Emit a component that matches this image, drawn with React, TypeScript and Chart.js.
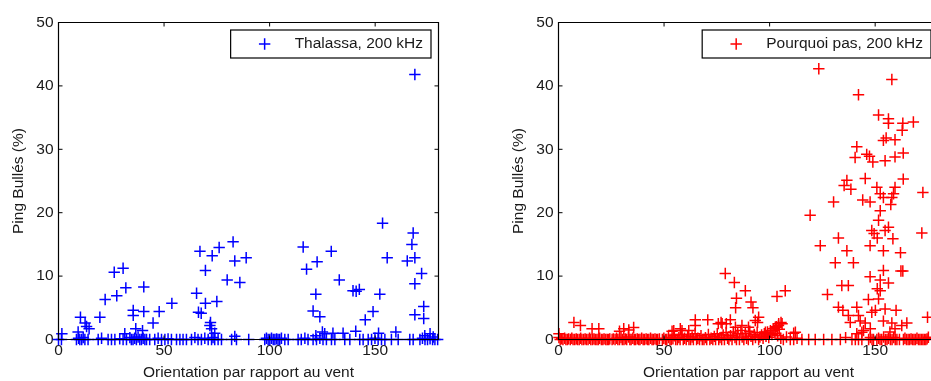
import React, { useEffect, useRef } from 'react';
import { Chart, registerables } from 'chart.js';

Chart.register(...registerables);

// ---- Text / ticks ----
const xTickValues = [0, 50, 100, 150];
const yTickValues = [0, 10, 20, 30, 40, 50];
const xAxisTitle = 'Orientation par rapport au vent';
const yAxisTitle = 'Ping Bullés (%)';
const thalassaLabel = 'Thalassa, 200 kHz';
const pourquoiLabel = 'Pourquoi pas, 200 kHz';

// ---- Thalassa (blue) ----
const thalassaScatter: [number, number][] = [
  [168.8, 41.8], [153.5, 18.35], [168, 16.8], [167.4, 15.0], [165.2, 12.4], [168.8, 12.9],
  [155.7, 12.9], [172, 10.4], [168.8, 8.8], [152.2, 7.15], [168.8, 3.9], [173, 5.2], [173, 3.3],
  [149, 4.4], [145.3, 3.1], [140.8, 1.3], [139.5, 7.7], [141, 7.6], [142.5, 7.9], [133, 9.4],
  [129.2, 13.9], [122.5, 12.25], [117.5, 11.1], [115.9, 14.6], [121.9, 7.15], [120.6, 4.5],
  [123.8, 3.6], [88.9, 12.9], [85.9, 9.0], [83.5, 12.4], [82.7, 15.4], [79.9, 9.4], [76.1, 14.5],
  [72.8, 13.2], [67, 13.9], [69.6, 10.9], [69.6, 5.7], [75, 6.0], [65.4, 7.3], [66.3, 4.3],
  [67.6, 4.15], [72, 2.7], [72.5, 1.7], [53.7, 5.7], [47.7, 4.4], [44.8, 2.6], [40.4, 8.3],
  [40.4, 4.4], [31.9, 8.15], [30.6, 11.25], [26.4, 10.6], [27.6, 6.9], [22.1, 6.3], [19.6, 3.5],
  [35.4, 4.6], [35.4, 3.8], [10.4, 3.5], [12.6, 2.6], [14.5, 1.7], [13.3, 2.05], [36.6, 1.7],
  [39.8, 1.4], [159.8, 1.2], [125, 1.2], [126.1, 0.9], [130, 1.0], [134.8, 1.0], [151.6, 1.0],
  [1.6, 0.9], [176, 0.9], [9.3, 1.2], [31.4, 0.9], [71.7, 2.2], [74, 1.0], [83.5, 0.5],
  [121.9, 0.6], [173.5, 0.6], [177.5, 0.4],
];
const thalassaBaseline: [number, number][] = [
  [0, 0], [1.4, 0], [8.5, 0], [9.5, 0.2], [10.1, 0], [11, 0], [11.7, 0.3], [12.5, 0], [14, 0],
  [18.8, 0], [20.4, 0.2], [23.5, 0], [25.1, 0], [26.7, 0], [29, 0.1], [30.6, 0], [32.2, 0],
  [33.8, 0.3], [34.5, 0], [35.3, 0], [36.1, 0.2], [36.9, 0], [37.7, 0.4], [38.5, 0], [39.3, 0],
  [40.1, 0.2], [40.9, 0], [41.7, 0], [43.2, 0], [45.6, 0], [47.2, 0.2], [48.8, 0], [50.4, 0],
  [51.9, 0.1], [53.5, 0], [55.9, 0], [57.5, 0], [59, 0], [60.6, 0], [63, 0], [64.6, 0.3],
  [66.1, 0], [67.7, 0], [69.3, 0.2], [70.9, 0], [72.5, 0], [73.2, 0.3], [74, 0], [75.6, 0],
  [77.2, 0], [82, 0], [84.3, 0], [90.1, 0], [97.7, 0], [98.5, 0.2], [99.3, 0], [100.1, 0],
  [100.9, 0.2], [101.7, 0], [102.5, 0], [103.3, 0.1], [104, 0], [104.8, 0], [105.6, 0.2],
  [107.2, 0], [108.8, 0], [113.5, 0], [115, 0], [116.7, 0.2], [118.2, 0], [120.6, 0],
  [122.2, 0], [123.8, 0.2], [125.3, 0], [126.9, 0], [129.3, 0], [130.9, 0], [135.6, 0],
  [138, 0], [142.7, 0], [144.3, 0], [146.7, 0], [148.3, 0], [149.9, 0.2], [151.4, 0],
  [153, 0], [154.6, 0], [157.7, 0], [160.9, 0], [166.4, 0], [168, 0], [171.2, 0], [172.4, 0.2],
  [173.6, 0], [174.8, 0], [176, 0.1], [177.2, 0], [178.3, 0], [179.6, 0],
];

// ---- Pourquoi pas (red) ----
const pourquoiScatter: [number, number][] = [
  [123.3, 42.7], [157.9, 41.0], [142.1, 38.6], [151.6, 35.4], [156.3, 34.8], [156.3, 34.1],
  [163.1, 34.1], [168.1, 34.3], [162.8, 33.0], [141.3, 30.4], [155.2, 31.8], [153.9, 31.4],
  [159.4, 31.5], [146, 29.2], [147.3, 28.9], [140.5, 28.7], [148.9, 28.0], [154.7, 28.2],
  [159.4, 28.8], [163.3, 29.4], [136.6, 25.1], [135.3, 24.3], [145.3, 25.4], [163.3, 25.3],
  [138.5, 23.7], [130.3, 21.7], [144.1, 22.0], [147.6, 21.7], [150.8, 24.0], [152.4, 23.0],
  [153.9, 22.4], [157.9, 22.4], [159.4, 24.0], [158.7, 23.0], [157.4, 21.3], [172.6, 23.2],
  [152.4, 20.3], [119.2, 19.6], [124, 14.8], [132.6, 16.0], [136.6, 14.0], [148.4, 17.2],
  [149.5, 16.7], [151.6, 18.8], [154.7, 17.2], [156.3, 17.7], [158.4, 15.9], [151, 16.0],
  [147.6, 14.8], [153.9, 14.0], [162, 13.7], [172.1, 16.8], [131.1, 12.1], [139.7, 12.1],
  [153.9, 10.9], [163.1, 10.8], [162.2, 10.8], [147.6, 9.9], [152.4, 9.4], [156.3, 8.9], [134.2, 8.5],
  [137.3, 8.5], [151, 8.0], [152.4, 7.7], [127.4, 7.1], [146.8, 6.3], [151.6, 6.4], [132.6, 5.1],
  [134.7, 4.6], [141.3, 5.1], [150.1, 4.6], [154.7, 4.8], [159.9, 4.6], [137.3, 3.8],
  [142.1, 3.8], [148.4, 4.3], [138.2, 2.7], [142.9, 2.9], [145.3, 2.6], [153.9, 2.9],
  [157.9, 2.6], [165, 2.6], [174.8, 3.5], [141.3, 0.9], [144.5, 1.4], [159.4, 1.7],
  [162.6, 2.2], [143.7, 1.15], [147.7, 1.7], [157, 1.2], [112.2, 1.15], [175.2, 0.35],
  [79, 10.4], [83.3, 9.0], [88.5, 7.7], [84.3, 6.5], [83.9, 5.0], [91.2, 5.9], [92.1, 5.0],
  [103.5, 6.8], [107.4, 7.7], [94.8, 3.5], [94.3, 2.7], [81.4, 3.1], [77, 2.7], [70.7, 3.1],
  [64.8, 3.1], [105.4, 2.7], [104.2, 2.2], [7.3, 2.7], [10.4, 2.2], [15.9, 1.7], [19.1, 1.7],
  [35.6, 1.9], [28.9, 1.3], [53.8, 1.3], [58.5, 1.4], [61.7, 1.4], [0.2, 0.9], [30.9, 1.7],
  [33.3, 1.5], [54.6, 1.4], [57.7, 1.7], [64.8, 2.2], [75.7, 2.5], [77.5, 2.5], [79.5, 2.5],
  [83.8, 1.95], [86.9, 2.2], [90, 1.95], [93.2, 3.0], [98, 1.15], [102.7, 1.95], [104.3, 2.5],
  [105.9, 2.5], [111.4, 1.0],
];
const pourquoiBaseline: [number, number][] = [
  [0.2, 0.3], [0.8, 0], [1.5, 0.1], [2.1, 0], [2.9, 0.2], [3.5, 0], [4.2, 0], [4.8, 0.1],
  [5.6, 0], [6.3, 0.2], [6.9, 0], [7.7, 0], [8.4, 0.1], [9.0, 0], [9.8, 0], [10.5, 0.2],
  [11.1, 0], [11.9, 0], [12.6, 0.1], [13.2, 0], [14.0, 0], [14.7, 0.2], [15.3, 0], [16.1, 0],
  [16.8, 0.1], [17.4, 0], [18.2, 0], [18.9, 0], [19.5, 0.2], [20.3, 0], [21.0, 0], [21.6, 0.1],
  [22.4, 0], [23.1, 0], [23.8, 0], [24.3, 0.1],
  [25.4, 0], [26.0, 0.1], [26.8, 0], [27.5, 0.2], [28.1, 0], [28.9, 0], [29.6, 0.3], [30.2, 0],
  [31.0, 0], [31.7, 0.1], [32.3, 0], [33.1, 0.4], [33.8, 0], [34.4, 0], [35.2, 0.2], [35.9, 0],
  [36.5, 0], [37.3, 0.1], [38.0, 0], [38.6, 0], [39.4, 0.2], [40.1, 0], [40.7, 0], [41.5, 0.1],
  [42.2, 0], [42.8, 0], [43.6, 0.2], [44.3, 0], [44.9, 0], [45.7, 0.1], [46.4, 0], [47.0, 0],
  [47.8, 0.1],
  [49.2, 0], [49.9, 0.2], [50.7, 0], [51.3, 0], [52.1, 0.3], [52.8, 0], [53.4, 0], [54.2, 0.1],
  [54.9, 0.6], [55.5, 0], [56.3, 0], [57.0, 0.3], [57.6, 0], [58.4, 0.8], [59.1, 0], [59.7, 0.2],
  [60.5, 0], [61.2, 0.5], [61.8, 0], [62.6, 0], [63.3, 0.4], [63.9, 0], [64.7, 0.9], [65.4, 0],
  [66.0, 0.2], [66.8, 0], [67.5, 0.6], [68.1, 0], [68.9, 0], [69.6, 0.3], [70.2, 0], [71.0, 0.8],
  [71.7, 0], [72.3, 0.2], [73.1, 0], [73.8, 0.5], [74.4, 0], [75.2, 0.9], [75.9, 0], [76.5, 0.3],
  [77.3, 0], [78.0, 0.7], [78.6, 0], [79.4, 1.1], [80.1, 0.2], [80.7, 0], [81.5, 0.6], [82.2, 0],
  [82.8, 1.2], [83.6, 0.3], [84.3, 0], [84.9, 0.9], [85.7, 0], [86.4, 1.4], [87.0, 0.4],
  [87.8, 0], [88.5, 1.0], [89.1, 0.2], [89.9, 0], [90.6, 1.3], [91.2, 0.5], [92.0, 0],
  [92.7, 0.8], [93.3, 0.3], [94.1, 1.1], [94.8, 0], [95.4, 0.4], [96.2, 0.7], [96.9, 0.2],
  [97.5, 0.9], [98.3, 0.5], [99.0, 1.2], [99.6, 0.3], [100.4, 1.4], [101.1, 0.8], [101.7, 1.7],
  [102.5, 1.0], [103.2, 2.0], [103.8, 0.6], [104.6, 1.6], [105.3, 0.2],
  [106.5, 0], [108, 0.4], [109.8, 0], [111.4, 0], [113, 0.2], [115.3, 0], [118.5, 0],
  [121.6, 0], [125.6, 0], [129.5, 0], [133.5, 0], [136, 0.3], [139, 0], [140.6, 0], [142.1, 0],
  [143.7, 0],
  [146.9, 0], [147.7, 0.3], [148.5, 0], [149.2, 0], [150.8, 0], [151.6, 0.2], [152.3, 0],
  [153.1, 0], [154, 0.4], [154.8, 0], [155.6, 0], [156.3, 0.2], [157.2, 0], [158, 0],
  [158.8, 0.3], [159.5, 0], [160.3, 0], [161.5, 0], [163.4, 0], [164.1, 0.2], [164.8, 0],
  [165.6, 0], [166.3, 0], [167, 0.1], [167.7, 0], [168.4, 0], [169.1, 0], [169.8, 0.2],
  [170.5, 0], [171.2, 0], [171.9, 0], [172.6, 0], [173.3, 0], [174, 0], [174.6, 0.1],
];

const FONT_FAMILY = "'Liberation Sans', Arial, Helvetica, sans-serif";
const FONT_SIZE = 15.5;
const TEXT_COLOR = '#1a1a1a';
const MARKER_RADIUS = 5.7;
const MARKER_WIDTH = 1.5;

const boxPlugin = {
  id: 'matlabBox',
  afterDatasetsDraw(chart: any) {
    const { ctx, chartArea } = chart;
    const { left, right, top, bottom } = chartArea;
    const xs = chart.scales.x;
    const ys = chart.scales.y;
    const tl = 4;
    ctx.save();
    ctx.strokeStyle = '#000';
    ctx.lineWidth = 1.2;
    ctx.beginPath();
    ctx.rect(left, top, right - left, bottom - top);
    ctx.stroke();
    ctx.beginPath();
    ctx.lineWidth = 1;
    for (const v of xTickValues) {
      const px = xs.getPixelForValue(v);
      ctx.moveTo(px, bottom);
      ctx.lineTo(px, bottom - tl);
      ctx.moveTo(px, top);
      ctx.lineTo(px, top + tl);
    }
    for (const v of yTickValues) {
      const py = ys.getPixelForValue(v);
      ctx.moveTo(left, py);
      ctx.lineTo(left + tl, py);
      ctx.moveTo(right, py);
      ctx.lineTo(right - tl, py);
    }
    ctx.stroke();
    ctx.restore();
  },
  afterDraw(chart: any, _args: any, opts: any) {
    const { ctx, chartArea } = chart;
    ctx.save();
    ctx.font = `${FONT_SIZE}px ${FONT_FAMILY}`;
    const tw = ctx.measureText(opts.label).width;
    const w = 64 + tw + 8;
    const h = 28;
    const bx = chartArea.right - 7.5 - w;
    const by = chartArea.top + 7.5;
    ctx.fillStyle = '#fff';
    ctx.fillRect(bx, by, w, h);
    ctx.strokeStyle = '#000';
    ctx.lineWidth = 1.2;
    ctx.strokeRect(bx, by, w, h);
    const cy = by + h / 2;
    const mx = bx + 34;
    ctx.strokeStyle = opts.color;
    ctx.lineWidth = MARKER_WIDTH;
    ctx.beginPath();
    ctx.moveTo(mx - MARKER_RADIUS, cy);
    ctx.lineTo(mx + MARKER_RADIUS, cy);
    ctx.moveTo(mx, cy - MARKER_RADIUS);
    ctx.lineTo(mx, cy + MARKER_RADIUS);
    ctx.stroke();
    ctx.fillStyle = TEXT_COLOR;
    ctx.textBaseline = 'middle';
    ctx.textAlign = 'left';
    ctx.fillText(opts.label, bx + 64, cy);
    ctx.restore();
  },
};

type PanelProps = {
  left: number;
  width: number;
  padLeft: number;
  label: string;
  color: string;
  points: [number, number][];
};

function ScatterPanel({ left, width, padLeft, label, color, points }: PanelProps) {
  const ref = useRef<HTMLCanvasElement | null>(null);
  useEffect(() => {
    if (!ref.current) return;
    const yAxisWidth = 58.5;
    const plotWidth = 380;
    const padRight = width - padLeft - yAxisWidth - plotWidth;
    const font = { family: FONT_FAMILY, size: FONT_SIZE };
    const chart = new Chart(ref.current, {
      type: 'scatter',
      data: {
        datasets: [
          {
            label,
            data: points.map(([x, y]) => ({ x, y })),
            pointStyle: 'cross',
            pointRadius: MARKER_RADIUS,
            pointHoverRadius: MARKER_RADIUS,
            borderColor: color,
            backgroundColor: color,
            borderWidth: MARKER_WIDTH,
            showLine: false,
            clip: false,
          } as any,
        ],
      },
      options: {
        responsive: false,
        animation: false,
        events: [],
        layout: { padding: { left: padLeft, right: padRight, top: 22.5, bottom: 0 } },
        plugins: {
          legend: { display: false },
          tooltip: { enabled: false },
          matlabBox: { label, color },
        } as any,
        scales: {
          x: {
            type: 'linear',
            min: 0,
            max: 180,
            afterBuildTicks: (s: any) => {
              s.ticks = xTickValues.map((v) => ({ value: v }));
            },
            afterFit: (s: any) => {
              s.height = 41.5;
            },
            ticks: { font, color: TEXT_COLOR, padding: 2, maxRotation: 0, autoSkip: false },
            grid: { display: false, drawTicks: false },
            border: { display: false },
            title: {
              display: true,
              text: xAxisTitle,
              font,
              color: TEXT_COLOR,
              padding: { top: 0, bottom: -1 },
            },
          },
          y: {
            type: 'linear',
            min: 0,
            max: 50,
            afterBuildTicks: (s: any) => {
              s.ticks = yTickValues.map((v) => ({ value: v }));
            },
            afterFit: (s: any) => {
              s.width = yAxisWidth;
            },
            ticks: { font, color: TEXT_COLOR, padding: 5 },
            grid: { display: false, drawTicks: false },
            border: { display: false },
            title: {
              display: true,
              text: yAxisTitle,
              font,
              color: TEXT_COLOR,
              padding: { top: 9, bottom: 0 },
            },
          },
        },
      } as any,
      plugins: [boxPlugin as any],
    });
    return () => chart.destroy();
  }, [left, width, padLeft, label, color, points]);

  return (
    <canvas
      ref={ref}
      width={width}
      height={381}
      style={{ position: 'absolute', left, top: 0, width, height: 381 }}
    />
  );
}

export default function App() {
  const bluePoints = [...thalassaBaseline, ...thalassaScatter];
  const redPoints = [...pourquoiBaseline, ...pourquoiScatter];
  return (
    <div
      style={{
        position: 'fixed',
        left: 0,
        top: 0,
        width: 931,
        height: 381,
        overflow: 'hidden',
        background: '#fff',
      }}
    >
      <ScatterPanel left={0} width={470} padLeft={0} label={thalassaLabel} color="#0000ff" points={bluePoints} />
      <ScatterPanel left={470} width={480} padLeft={30} label={pourquoiLabel} color="#ff0000" points={redPoints} />
    </div>
  );
}
